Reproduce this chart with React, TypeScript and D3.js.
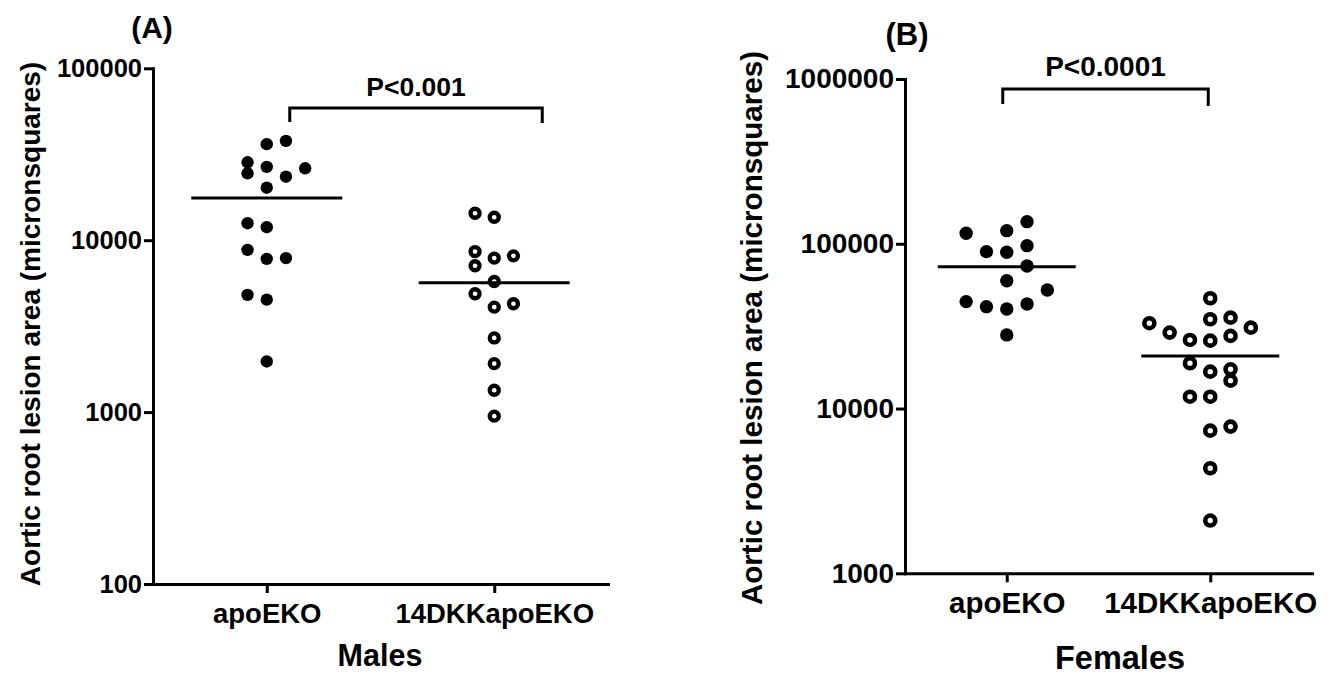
import React, { useEffect, useRef } from 'react'
import * as d3 from 'd3'

const groups = ['apoEKO', '14DKKapoEKO']

// Males (panel A)
const malesTicks = [100, 1000, 10000, 100000]
const malesApo = [37800, 36200, 28400, 26700, 26200, 24500, 23400, 20200, 12560, 11900, 8790, 7790, 7870, 4810, 4510, 1970]
const malesApoCol = [1, 0, -1, 0, 2, -1, 1, 0, -1, 0, -1, 0, 1, -1, 0, 0]
const malesDkk = [14350, 13600, 8590, 7870, 8110, 7100, 5750, 4880, 4080, 4270, 2700, 1915, 1340, 947]
const malesDkkCol = [-1, 0, -1, 0, 1, -1, 0, -1, 0, 1, 0, 0, 0, 0]
const malesMeans = [17600, 5650]

// Females (panel B)
const femalesTicks = [1000, 10000, 100000, 1000000]
const femalesApo = [115800, 120100, 136200, 89600, 88800, 97400, 73330, 59700, 52450, 44550, 41530, 40200, 43130, 27980]
const femalesApoCol = [-2, 0, 1, -1, 0, 1, 1, 0, 2, -2, -1, 0, 1, 0]
const femalesDkk = [46700, 32950, 34830, 35620, 30970, 28890, 26080, 25820, 27590, 18830, 16740, 17300, 14760, 11800, 11800, 7340, 7770, 4340, 2090]
const femalesDkkCol = [0, -3, 0, 1, 2, -2, -1, 0, 1, -1, 0, 1, 1, -1, 0, 0, 1, 0, 0]
const femalesMeans = [72600, 20850]

const FONT = '"Liberation Sans", Arial, Helvetica, sans-serif'
const yTitle = 'Aortic root lesion area (micronsquares)'

const panels = [
  {
    label: '(A)', labelPos: [152, 27], labelSize: 30,
    title: 'Males', titlePos: [380, 655], titleSize: 30.5,
    yTitlePos: [30, 324], yTitleSize: 28,
    domain: [100, 100000], ticks: malesTicks, top: 68.3, bottom: 584, left: 153, right: 608,
    yTickSize: 25.5, xTickSize: 27.5,
    apo: malesApo, apoCol: malesApoCol, dkk: malesDkk, dkkCol: malesDkkCol, means: malesMeans,
    spacing: 19.2, r: 6.2, ro: 4.5, rs: 4.3, meanHalf: 75.5,
    p: 'P<0.001', pSize: 26.5, bracketY: 108, bracketL: 23, bracketR: 48, dropL: 14, dropR: 15, pGap: 21
  },
  {
    label: '(B)', labelPos: [907, 34], labelSize: 31,
    title: 'Females', titlePos: [1120, 658], titleSize: 32.5,
    yTitlePos: [752, 328], yTitleSize: 29.6,
    domain: [1000, 1000000], ticks: femalesTicks, top: 79, bottom: 573.3, left: 905, right: 1312,
    yTickSize: 28, xTickSize: 29.5,
    apo: femalesApo, apoCol: femalesApoCol, dkk: femalesDkk, dkkCol: femalesDkkCol, means: femalesMeans,
    spacing: 20.3, r: 6.7, ro: 5, rs: 4.6, meanHalf: 69,
    p: 'P<0.0001', pSize: 28, bracketY: 89, bracketL: -4, bracketR: -2, dropL: 15, dropR: 17, pGap: 23
  }
]

const App = () => {
  const ref = useRef<SVGSVGElement>(null)

  useEffect(() => {
    const svg = d3.select(ref.current)
    svg.selectAll('*').remove()

    panels.forEach((c) => {
      const y = d3.scaleLog().domain(c.domain).range([c.bottom, c.top])
      const x = d3.scalePoint().domain(groups).range([c.left, c.right]).padding(0.5)
      const g = svg.append('g')

      const yAxis = g.append('g')
        .attr('transform', `translate(${c.left},0)`)
        .call(d3.axisLeft(y).tickValues(c.ticks).tickFormat(d3.format('d')).tickSize(9).tickSizeOuter(0).tickPadding(2))
      const xAxis = g.append('g')
        .attr('transform', `translate(0,${c.bottom})`)
        .call(d3.axisBottom(x).tickSize(9).tickSizeOuter(0).tickPadding(10))

      ;[yAxis, xAxis].forEach((a) => {
        a.attr('font-family', FONT).attr('font-weight', 'bold')
        a.selectAll('path').attr('stroke', '#000').attr('stroke-width', 3).attr('stroke-linecap', 'square')
        a.selectAll('line').attr('stroke', '#000').attr('stroke-width', 3)
        a.selectAll('text').attr('fill', '#000')
      })
      yAxis.attr('font-size', c.yTickSize)
      xAxis.attr('font-size', c.xTickSize)

      // points
      const series = [
        { vals: c.apo, cols: c.apoCol, filled: true, grp: groups[0] },
        { vals: c.dkk, cols: c.dkkCol, filled: false, grp: groups[1] }
      ]
      series.forEach((s) => {
        g.append('g').selectAll('circle')
          .data(s.vals)
          .enter()
          .append('circle')
          .attr('cx', (d, i) => (x(s.grp) as number) + s.cols[i] * c.spacing)
          .attr('cy', (d) => y(d))
          .attr('r', s.filled ? c.r : c.ro)
          .attr('fill', s.filled ? '#000' : '#fff')
          .attr('stroke', s.filled ? 'none' : '#000')
          .attr('stroke-width', s.filled ? 0 : c.rs)
      })

      // means
      g.append('g').selectAll('line')
        .data(c.means)
        .enter()
        .append('line')
        .attr('x1', (d, i) => (x(groups[i]) as number) - c.meanHalf)
        .attr('x2', (d, i) => (x(groups[i]) as number) + c.meanHalf)
        .attr('y1', (d) => y(d))
        .attr('y2', (d) => y(d))
        .attr('stroke', '#000')
        .attr('stroke-width', 3)

      // significance bracket
      const bl = (x(groups[0]) as number) + c.bracketL
      const br = (x(groups[1]) as number) + c.bracketR
      g.append('path')
        .attr('d', `M${bl},${c.bracketY + c.dropL}V${c.bracketY}H${br}V${c.bracketY + c.dropR}`)
        .attr('fill', 'none')
        .attr('stroke', '#000')
        .attr('stroke-width', 3)
      g.append('text')
        .attr('x', (bl + br) / 2)
        .attr('y', c.bracketY - c.pGap)
        .attr('dy', '0.35em')
        .attr('text-anchor', 'middle')
        .attr('font-family', FONT).attr('font-weight', 'bold').attr('font-size', c.pSize)
        .text(c.p)

      // titles
      g.append('text')
        .attr('x', c.titlePos[0]).attr('y', c.titlePos[1]).attr('dy', '0.35em')
        .attr('text-anchor', 'middle')
        .attr('font-family', FONT).attr('font-weight', 'bold').attr('font-size', c.titleSize)
        .text(c.title)
      g.append('text')
        .attr('x', c.labelPos[0]).attr('y', c.labelPos[1]).attr('dy', '0.35em')
        .attr('text-anchor', 'middle')
        .attr('font-family', FONT).attr('font-weight', 'bold').attr('font-size', c.labelSize)
        .text(c.label)
      g.append('text')
        .attr('transform', `translate(${c.yTitlePos[0]},${c.yTitlePos[1]}) rotate(-90)`)
        .attr('dy', '0.35em')
        .attr('text-anchor', 'middle')
        .attr('font-family', FONT).attr('font-weight', 'bold').attr('font-size', c.yTitleSize)
        .text(yTitle)
    })
  }, [])

  return (
    <svg ref={ref} width={1340} height={675} style={{ position: 'absolute', left: 0, top: 0, background: '#fff' }}>
    </svg>
  )
}

export default App
